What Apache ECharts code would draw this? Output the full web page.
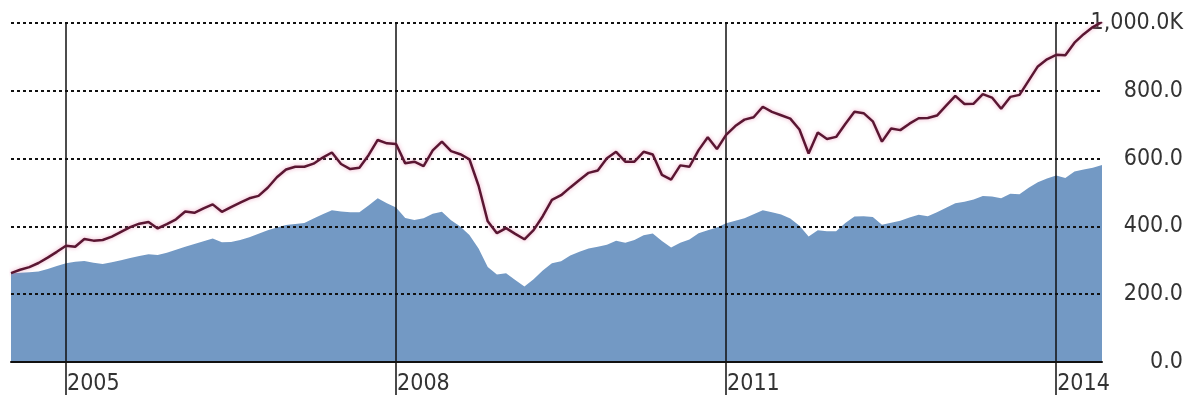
<!DOCTYPE html>
<html>
<head>
<meta charset="utf-8">
<script src="https://cdn.jsdelivr.net/npm/echarts@6/dist/echarts.min.js"></script>
<style>
html,body{margin:0;padding:0;background:#fff;}
#chart{width:1192px;height:398px;}
</style>
</head>
<body>
<div id="chart"></div>
<script>
// Monthly categories, Jul 2004 .. Jun 2014
const months = [];
for (let y = 2004; y <= 2014; y++) {
  for (let m = 1; m <= 12; m++) {
    if ((y === 2004 && m < 7) || (y === 2014 && m > 6)) continue;
    months.push(y + '-' + (m < 10 ? '0' + m : m));
  }
}
const yearMarks = ['2005-01', '2008-01', '2011-01', '2014-01'];
const yTickLabels = {0: '0.0', 200: '200.0', 400: '400.0', 600: '600.0', 800: '800.0', 1000: '1,000.0K'};

// Line series (thousands)
const lineValues = [
  262,272,280,292,308,325,343,340,363,358,360,370,
  384,398,408,413,394,407,421,444,440,453,465,443,
  457,470,483,490,514,545,568,576,576,585,603,618,
  584,569,573,610,655,645,643,586,591,578,624,650,
  622,613,598,520,415,380,395,378,362,389,430,478,
  492,515,537,558,565,601,620,591,591,620,612,552,
  538,580,576,625,663,628,670,696,715,722,753,738,
  728,718,686,615,677,658,664,702,738,734,710,650,
  689,684,703,719,720,727,756,785,761,762,790,780,
  747,782,788,830,872,893,906,905,942,967,988,1003
];
// Area series (thousands)
const areaValues = [
  262,263,265,267,274,283,291,296,298,293,289,294,
  300,307,313,318,316,322,331,340,348,356,364,353,
  354,360,368,378,389,397,404,407,410,423,436,448,
  444,442,442,462,483,468,456,425,419,424,437,443,
  418,400,375,335,280,258,262,242,223,244,270,291,
  297,314,325,335,340,346,358,352,360,374,379,357,
  338,352,361,380,389,397,409,417,424,436,448,442,
  435,423,402,370,389,386,386,410,429,430,428,405,
  411,417,426,434,430,442,455,468,473,479,490,488,
  483,496,495,514,530,541,550,543,562,568,573,581
];

const isYear = (idx, val) => yearMarks.indexOf(val) >= 0;
const FONT = "'Liberation Sans Narrow', 'DejaVu Sans Condensed', 'Roboto', sans-serif";

const chart = echarts.init(document.getElementById('chart'), null, {renderer: 'canvas'});
chart.setOption({
  animation: false,
  backgroundColor: '#ffffff',
  grid: {left: 11, right: 90, top: 23, bottom: 36, containLabel: false},
  xAxis: {
    type: 'category',
    data: months,
    boundaryGap: false,
    axisLine: {show: true, lineStyle: {color: '#111', width: 2}},
    axisTick: {show: true, interval: isYear, length: 33, lineStyle: {color: '#111', width: 1.5}},
    splitLine: {show: true, interval: isYear, lineStyle: {color: '#111', width: 1.5, type: 'solid'}},
    axisLabel: {
      show: true, interval: isYear, align: 'left', verticalAlign: 'middle', margin: 22,
      padding: [0, 0, 0, 1],
      formatter: v => v.slice(0, 4),
      color: '#333', fontSize: 23, fontFamily: FONT
    }
  },
  yAxis: {
    type: 'value',
    position: 'right',
    min: 0, max: 1000, interval: 200,
    axisLine: {show: false},
    axisTick: {show: false},
    splitLine: {show: true, lineStyle: {color: '#111', width: 2, type: [3, 3]}},
    axisLabel: {
      show: true, margin: 81, align: 'right', verticalAlign: 'middle',
      formatter: v => yTickLabels[v] !== undefined ? yTickLabels[v] : '',
      color: '#333', fontSize: 23, fontFamily: FONT
    }
  },
  series: [
    {
      type: 'line', name: 'area', data: areaValues, z: -1,
      showSymbol: false, symbol: 'none',
      lineStyle: {width: 0, color: '#7399c4'},
      itemStyle: {color: '#7399c4'},
      areaStyle: {color: '#7399c4', opacity: 1}
    },
    {
      type: 'line', name: 'line', data: lineValues, z: 5,
      showSymbol: false, symbol: 'none',
      lineStyle: {width: 2.5, color: '#5a1632', shadowColor: 'rgba(230,130,170,0.7)', shadowBlur: 4}
    }
  ]
});
</script>
</body>
</html>
